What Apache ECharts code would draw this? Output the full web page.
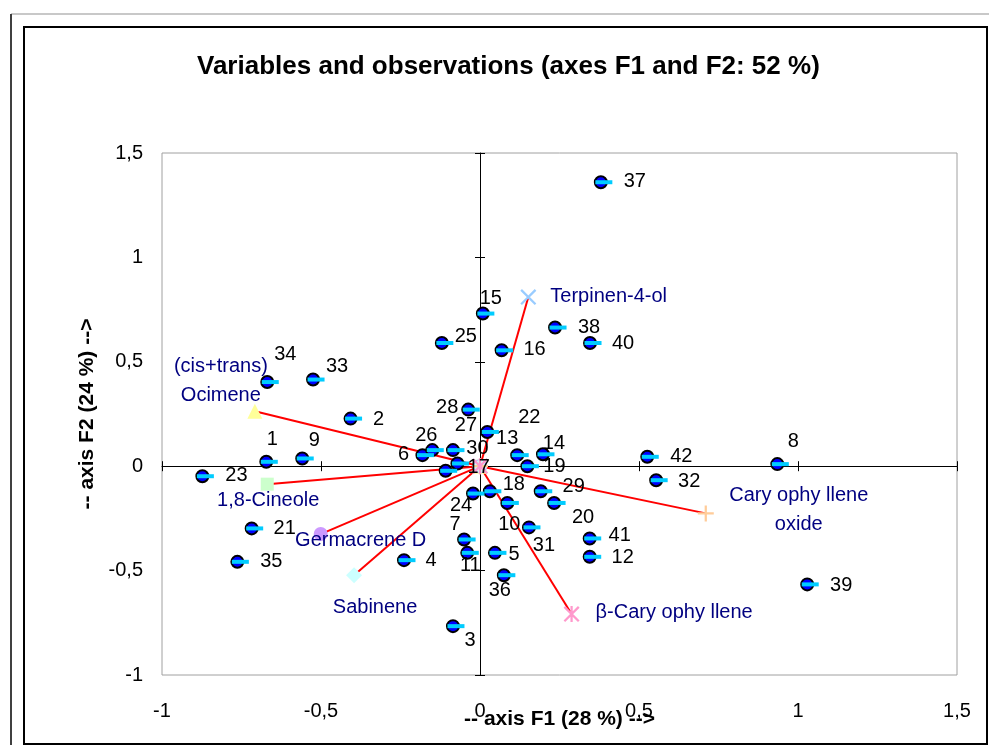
<!DOCTYPE html>
<html>
<head>
<meta charset="utf-8">
<script src="https://cdn.jsdelivr.net/npm/echarts@6/dist/echarts.min.js"></script>
<style>
html, body { margin: 0; padding: 0; background: #fff; }
#chart { width: 989px; height: 745px; }
</style>
</head>
<body>
<div id="chart"></div>
<script>
// observations (scores on F1 / F2)
var obsNames = ['1','2','3','4','5','6','7','8','9','10','11','12','13','14','15','16','17','18','19','20','21',
                '22','23','24','25','26','27','28','29','30','31','32','33','34','35','36','37','38','39','40','41','42'];
var obsF1 = [-0.672,-0.407,-0.085,-0.239,0.047,-0.181,-0.050,0.935,-0.559,0.086,-0.040,0.345,0.117,0.198,0.009,0.068,-0.108,0.031,0.149,0.233,-0.718,
             0.023,-0.873,-0.022,-0.120,-0.150,-0.085,-0.037,0.191,-0.071,0.154,0.554,-0.525,-0.669,-0.763,0.075,0.380,0.236,1.029,0.346,0.345,0.526];
var obsF2 = [0.021,0.228,-0.766,-0.450,-0.415,0.053,-0.351,0.010,0.037,-0.176,-0.415,-0.434,0.053,0.057,0.731,0.555,-0.022,-0.120,0.000,-0.176,-0.298,
             0.164,-0.048,-0.131,0.590,0.077,0.077,0.271,-0.120,0.013,-0.293,-0.067,0.415,0.403,-0.458,-0.522,1.360,0.664,-0.566,0.590,-0.346,0.045];

// variables (loadings)
var varNames = ['Terpinen-4-ol','(cis+trans)\nOcimene','1,8-Cineole','Germacrene D','Sabinene','Cary ophy llene\noxide','β-Cary ophy llene'];
var varF1 = [0.152,-0.708,-0.669,-0.501,-0.396,0.710,0.288];
var varF2 = [0.810,0.263,-0.086,-0.325,-0.522,-0.226,-0.708];

var tickFmt = function (v) { return String(v).replace('.', ','); };

// label placement (pixels, relative to the marker centre)
var obsLabelPos = {
  '1':[6,-22],'2':[28,1],'3':[17,14],'4':[27,0],'5':[19,2],'6':[-19,-1],'7':[-9,-15],'8':[16,-23],'9':[12,-18],
  '10':[2,22],'11':[3,13],'12':[33,1],'13':[-10,-17],'14':[11,-11],'15':[8,-15],'16':[33,-1],'17':[33,-3],
  '18':[24,-7],'19':[27,0],'20':[29,15],'21':[33,0],'22':[42,-14],'23':[34,-1],'24':[-12,12],'25':[24,-7],
  '26':[-6,-15],'27':[13,-25],'28':[-21,-2],'29':[33,-5],'30':[20,-15],'31':[15,18],'32':[33,1],'33':[24,-13],
  '34':[18,-28],'35':[34,0],'36':[-4,15],'37':[34,-1],'38':[34,0],'39':[34,1],'40':[33,0],'41':[30,-3],'42':[34,0]
};
var varStyle = [
  {symbol:'path://M0,1L1,0L10,9L9,10ZM9,0L10,1L1,10L0,9Z', size:16, color:'#99ccff', align:'left', offset:[22,-1]},
  {symbol:'triangle', size:15, color:'#ffff99', align:'center', offset:[-34,-30]},
  {symbol:'rect', size:13, color:'#ccffcc', align:'center', offset:[1,16]},
  {symbol:'circle', size:14, color:'#cc99ff', align:'center', offset:[40,6]},
  {symbol:'diamond', size:16, color:'#ccffff', align:'center', offset:[21,32]},
  {symbol:'path://M4.3,0H5.7V4.3H10V5.7H5.7V10H4.3V5.7H0V4.3H4.3Z', size:16, color:'#ffcc99', align:'center', offset:[93,-3]},
  {symbol:'path://M0,1L1,0L10,9L9,10ZM9,0L10,1L1,10L0,9ZM4.3,0L5.7,0L5.7,10L4.3,10Z', size:16, color:'#ff99cc', align:'left', offset:[24,-2]}
];

var FONT = 'Liberation Sans, Arial, sans-serif';
var series = [];

varNames.forEach(function (n, i) {
  var st = varStyle[i];
  series.push({
    type: 'line',
    symbol: st.symbol,
    symbolSize: st.size,
    showAllSymbol: true,
    lineStyle: { color: '#ff0000', width: 2 },
    itemStyle: { color: st.color },
    z: 2,
    data: [
      { value: [0, 0], label: { show: false } },
      { value: [varF1[i], varF2[i]], label: {
          show: true, formatter: n, position: 'inside', align: st.align, verticalAlign: 'middle',
          offset: st.offset, color: '#000080', fontSize: 20, lineHeight: 29, fontFamily: FONT } }
    ]
  });
});

series.push({
  type: 'scatter',
  symbol: 'circle',
  symbolSize: 12,
  itemStyle: { color: '#0000ff', borderColor: '#000', borderWidth: 2, opacity: 1 },
  z: 3,
  label: { show: true, position: 'inside', formatter: '{b}', color: '#000', fontSize: 20, fontFamily: FONT },
  data: obsNames.map(function (n, i) {
    return { name: n, value: [obsF1[i], obsF2[i]], label: { offset: obsLabelPos[n] } };
  })
});
series.push({
  type: 'scatter',
  symbol: 'rect',
  symbolSize: [17, 4],
  symbolOffset: [3, 0],
  itemStyle: { color: '#00ccff', opacity: 1 },
  z: 4,
  silent: true,
  data: obsNames.map(function (n, i) { return [obsF1[i], obsF2[i]]; })
});

var baseX = { type: 'value', min: -1, max: 1.5, interval: 0.5, splitLine: { show: false } };
var baseY = { type: 'value', min: -1, max: 1.5, interval: 0.5, splitLine: { show: false } };

var chart = echarts.init(document.getElementById('chart'));
chart.setOption({
  animation: false,
  backgroundColor: '#fff',
  title: {
    text: 'Variables and observations (axes F1 and F2: 52 %)',
    left: 192, top: 49,
    textStyle: { fontSize: 26, fontWeight: 'bold', color: '#000', fontFamily: FONT }
  },
  grid: { left: 162, right: 32, top: 153, bottom: 70, show: true, borderColor: '#a0a0a0', borderWidth: 1 },
  xAxis: [
    Object.assign({}, baseX, {
      position: 'bottom',
      axisLine: { show: false, onZero: false }, axisTick: { show: false },
      axisLabel: { margin: 26, formatter: tickFmt, color: '#000', fontSize: 20, fontFamily: FONT },
      name: '-- axis F1 (28 %) -->', nameLocation: 'middle', nameGap: 34, nameMoveOverlap: false,
      nameTextStyle: { fontSize: 21, fontWeight: 'bold', color: '#000', fontFamily: FONT }
    }),
    Object.assign({}, baseX, {
      position: 'bottom',
      axisLine: { show: true, onZero: true, onZeroAxisIndex: 0, lineStyle: { color: '#000', width: 1 } },
      axisTick: { show: true, inside: false, length: 5, lineStyle: { color: '#000' } },
      axisLabel: { show: false }
    }),
    Object.assign({}, baseX, {
      position: 'bottom',
      axisLine: { show: false, onZero: true, onZeroAxisIndex: 0 },
      axisTick: { show: true, inside: true, length: 5, lineStyle: { color: '#000' } },
      axisLabel: { show: false }
    })
  ],
  yAxis: [
    Object.assign({}, baseY, {
      position: 'left',
      axisLine: { show: false, onZero: false }, axisTick: { show: false },
      axisLabel: { margin: 19, formatter: tickFmt, color: '#000', fontSize: 20, fontFamily: FONT },
      name: '-- axis F2 (24 %) -->', nameLocation: 'middle', nameGap: 64, nameRotate: 90, nameMoveOverlap: false,
      nameTextStyle: { fontSize: 21, fontWeight: 'bold', color: '#000', fontFamily: FONT }
    }),
    Object.assign({}, baseY, {
      position: 'left',
      axisLine: { show: true, onZero: true, onZeroAxisIndex: 0, lineStyle: { color: '#000', width: 1 } },
      axisTick: { show: true, inside: false, length: 5, lineStyle: { color: '#000' } },
      axisLabel: { show: false }
    }),
    Object.assign({}, baseY, {
      position: 'left',
      axisLine: { show: false, onZero: true, onZeroAxisIndex: 0 },
      axisTick: { show: true, inside: true, length: 5, lineStyle: { color: '#000' } },
      axisLabel: { show: false }
    })
  ],
  graphic: [
    { type: 'line', shape: { x1: 11, y1: 14, x2: 989, y2: 14 }, style: { stroke: '#c8c8c8', lineWidth: 2 }, silent: true },
    { type: 'line', shape: { x1: 11, y1: 14, x2: 11, y2: 745 }, style: { stroke: '#404040', lineWidth: 2 }, silent: true },
    { type: 'rect', shape: { x: 24, y: 27, width: 963, height: 717 }, style: { fill: null, stroke: '#000', lineWidth: 2 }, silent: true }
  ],
  series: series
});
</script>
</body>
</html>
